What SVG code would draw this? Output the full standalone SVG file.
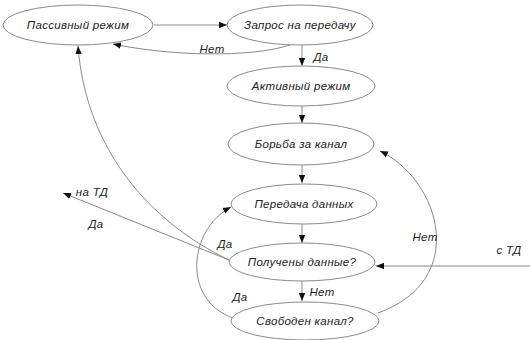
<svg xmlns="http://www.w3.org/2000/svg" width="530" height="340" viewBox="0 0 530 340">
<style>
.n ellipse{fill:#fff;stroke:#8a8a8a;stroke-width:1}
text{font-family:"Liberation Sans",Arial,sans-serif;font-style:italic;font-size:11.5px;letter-spacing:0.3px;fill:#222;text-anchor:middle;dominant-baseline:central}
.e path,.e line{fill:none;stroke:#8a8a8a;stroke-width:1;marker-end:url(#a)}
</style>
<defs>
<marker id="a" viewBox="0 0 10 10" refX="10" refY="5" markerWidth="8" markerHeight="8" markerUnits="userSpaceOnUse" orient="auto">
<path d="M0,1 L10,5 L0,9 Z" fill="#111"/>
</marker>
</defs>
<rect width="530" height="340" fill="#fff"/>
<g class="e" id="connectors">
<line x1="154" y1="25" x2="227" y2="25"/>
<path d="M290,45 C250,58 170,56 113,44"/>
<line x1="302" y1="45" x2="302" y2="66"/>
<line x1="302" y1="106" x2="302" y2="123"/>
<line x1="302" y1="165" x2="302" y2="183"/>
<line x1="302" y1="224" x2="302" y2="243"/>
<line x1="302" y1="281" x2="302" y2="301"/>
<path d="M229,260 C150,222 86,150 78,46"/>
<line x1="229" y1="260" x2="63" y2="193"/>
<path d="M233,318 C182,300 188,230 231,207"/>
<path d="M378,313 C470,280 440,180 380,151"/>
<line x1="530" y1="266" x2="376" y2="266"/>
</g>
<g class="n" id="passive"><ellipse cx="78" cy="25" rx="75" ry="20"/><text x="78" y="25">Пассивный режим</text></g>
<g class="n" id="request"><ellipse cx="300" cy="25" rx="73" ry="20"/><text x="300" y="25">Запрос на передачу</text></g>
<g class="n" id="active"><ellipse cx="301" cy="86" rx="74" ry="20"/><text x="301" y="86">Активный режим</text></g>
<g class="n" id="fight"><ellipse cx="301" cy="144" rx="73" ry="21"/><text x="301" y="144">Борьба за канал</text></g>
<g class="n" id="transfer"><ellipse cx="304" cy="204" rx="73" ry="20"/><text x="304" y="204">Передача данных</text></g>
<g class="n" id="received"><ellipse cx="302" cy="262" rx="73" ry="19"/><text x="302" y="262">Получены данные?</text></g>
<g class="n" id="free"><ellipse cx="305" cy="321" rx="74" ry="19"/><text x="305" y="321">Свободен канал?</text></g>
<g id="labels">
<text x="212" y="49">Нет</text>
<text x="321" y="57">Да</text>
<text x="92" y="192">на ТД</text>
<text x="96" y="224">Да</text>
<text x="225" y="244">Да</text>
<text x="240" y="297">Да</text>
<text x="322" y="292">Нет</text>
<text x="425" y="237">Нет</text>
<text x="509" y="250">с ТД</text>
</g>
</svg>
